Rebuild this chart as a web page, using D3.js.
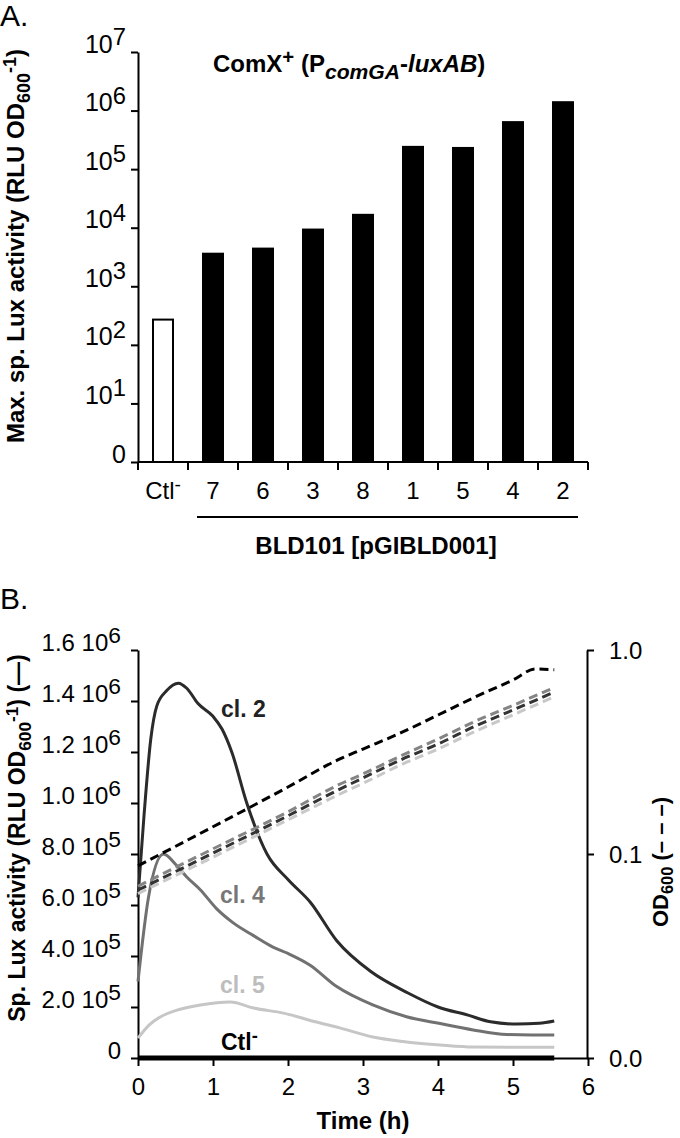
<!DOCTYPE html>
<html><head><meta charset="utf-8">
<script src="https://cdn.jsdelivr.net/npm/d3@7"></script>
<style>
body{margin:0;background:#fff;}
svg{display:block;font-family:"Liberation Sans",Arial,Helvetica,sans-serif;}
</style></head><body>
<svg id="chart" width="680" height="1138"></svg>
<script>
// ---------- Panel A data ----------
const categories = ["Ctl", "7", "6", "3", "8", "1", "5", "4", "2"];
const maxLux = [270, 3600, 4400, 9300, 16600, 240000, 230000, 635000, 1390000];
const logTicks = [1, 10, 100, 1e3, 1e4, 1e5, 1e6, 1e7];

// ---------- Panel B data ----------
const cl2Time = [0, 0.08, 0.17, 0.25, 0.38, 0.54, 0.65, 0.8, 1.0, 1.12, 1.25, 1.45, 1.72, 2.0, 2.3, 2.65, 3.1, 3.6, 4.0, 4.4, 4.7, 5.05, 5.35, 5.55];
const cl2Lux = [6.3e5, 9.5e5, 1.25e6, 1.38e6, 1.44e6, 1.47e6, 1.45e6, 1.39e6, 1.34e6, 1.29e6, 1.2e6, 1.0e6, 8.0e5, 7.0e5, 6.1e5, 4.6e5, 3.4e5, 2.55e5, 2.0e5, 1.68e5, 1.42e5, 1.33e5, 1.36e5, 1.45e5];
const cl4Time = [0, 0.14, 0.34, 0.5, 0.65, 0.83, 1.05, 1.27, 1.54, 1.8, 2.0, 2.29, 2.65, 3.13, 3.58, 4.03, 4.47, 4.92, 5.25, 5.55];
const cl4Lux = [3.0e5, 6.3e5, 8.0e5, 7.6e5, 7.1e5, 6.6e5, 5.85e5, 5.3e5, 4.8e5, 4.35e5, 4.1e5, 3.65e5, 2.8e5, 2.08e5, 1.62e5, 1.35e5, 1.1e5, 9.2e4, 9.0e4, 9.0e4];
const cl5Time = [0, 0.15, 0.29, 0.52, 0.83, 1.23, 1.54, 1.94, 2.38, 2.69, 3.13, 3.58, 4.03, 4.47, 5.0, 5.55];
const cl5Lux = [7.8e4, 1.3e5, 1.6e5, 1.88e5, 2.08e5, 2.2e5, 1.96e5, 1.76e5, 1.41e5, 1.18e5, 8.2e4, 6.3e4, 5.1e4, 4.3e4, 4.2e4, 4.2e4];
const ctlTime = [0, 1, 2, 3, 4, 5, 5.55];
const ctlLux = [0, 0, 0, 0, 0, 0, 0];

const odTime = [0, 1, 2, 2.67, 3, 3.5, 4, 4.5, 5, 5.3, 5.55];
const odCtl = [0.0875, 0.136, 0.213, 0.29, 0.327, 0.392, 0.48, 0.589, 0.713, 0.807, 0.80];
const odCl4 = [0.0695, 0.106, 0.161, 0.218, 0.247, 0.302, 0.366, 0.448, 0.535, 0.597, 0.655];
const odCl2 = [0.0666, 0.101, 0.154, 0.206, 0.236, 0.289, 0.346, 0.424, 0.508, 0.567, 0.622];
const odCl5 = [0.064, 0.0965, 0.147, 0.195, 0.222, 0.273, 0.327, 0.4, 0.481, 0.537, 0.59];

const luxTicks = [0, 2e5, 4e5, 6e5, 8e5, 1e6, 1.2e6, 1.4e6, 1.6e6];
const timeTicks = [0, 1, 2, 3, 4, 5, 6];
const odTicks = [0.01, 0.1, 1];
const odTickLabels = ["0.0", "0.1", "1.0"];

const svg = d3.select("#chart");

// rich text helper: parts = [{t, sup, sub, italic, fs, shift}]
function rich(sel, base, parts) {
  let cur = 0;
  parts.forEach(p => {
    let target = 0, fs = null;
    if (p.sup) { target = -(p.shift != null ? p.shift : 0.38) * base; fs = (p.fs || 0.75) * base; }
    if (p.sub) { target = (p.shift != null ? p.shift : 0.25) * base; fs = (p.fs || 0.75) * base; }
    const ts = sel.append("tspan").text(p.t).attr("dy", target - cur);
    if (fs) ts.attr("font-size", fs);
    if (p.italic) ts.attr("font-style", "italic");
    cur = target;
  });
  return sel;
}

// =============== PANEL A ===============
const aY = d3.scaleLog().domain([1, 1e7]).range([462, 52]);
const aX = d3.scaleBand().domain(categories).range([138, 588]).paddingInner(0.6).paddingOuter(0.3);
const gA = svg.append("g");

svg.append("text").attr("x", 0).attr("y", 26).attr("font-size", 30).text("A.");

// bars
gA.selectAll("rect.bar").data(categories).join("rect")
  .attr("x", d => aX(d))
  .attr("width", aX.bandwidth())
  .attr("y", (d, i) => aY(maxLux[i]))
  .attr("height", (d, i) => aY(1) - aY(maxLux[i]))
  .attr("fill", (d, i) => i === 0 ? "#fff" : "#000")
  .attr("stroke", "#000").attr("stroke-width", 2);

// y axis
const aAxis = gA.append("g").attr("transform", "translate(138,0)")
  .call(d3.axisLeft(aY).tickValues(logTicks).tickSize(7).tickSizeOuter(0).tickFormat(""));
aAxis.select(".domain").attr("stroke-width", 2);
aAxis.selectAll(".tick line").attr("stroke-width", 2);
aAxis.selectAll(".tick").each(function(d) {
  const t = d3.select(this).append("text").attr("x", -12).attr("dy", 8)
    .attr("text-anchor", "end").attr("font-size", 25).attr("fill", "#000");
  if (d === 1) rich(t, 25, [{t: "0"}]);
  else rich(t, 25, [{t: "10"}, {t: String(Math.round(Math.log10(d))), sup: true, fs: 0.95, shift: 0.3}]);
});

// x axis (band boundaries)
const step = aX.step();
const bounds = categories.map(c => aX(c) - (step - aX.bandwidth()) / 2).concat([aX(categories[categories.length - 1]) + aX.bandwidth() + (step - aX.bandwidth()) / 2]);
gA.append("line").attr("x1", bounds[0]).attr("x2", bounds[bounds.length - 1])
  .attr("y1", aY(1)).attr("y2", aY(1)).attr("stroke", "#000").attr("stroke-width", 2);
gA.selectAll("line.xt").data(bounds).join("line").attr("class", "xt")
  .attr("x1", d => d).attr("x2", d => d).attr("y1", aY(1)).attr("y2", aY(1) + 8)
  .attr("stroke", "#000").attr("stroke-width", 2);
gA.selectAll("text.xl").data(categories).join("text").attr("class", "xl")
  .attr("x", d => aX(d) + aX.bandwidth() / 2).attr("y", 499)
  .attr("text-anchor", "middle").attr("font-size", 24)
  .each(function(d) {
    const t = d3.select(this);
    if (d === "Ctl") rich(t, 24, [{t: "Ctl"}, {t: "-", sup: true, fs: 0.8, shift: 0.35}]);
    else t.text(d);
  });

// bracket
gA.append("line").attr("x1", aX("7") - 6).attr("x2", aX("2") + aX.bandwidth() + 5)
  .attr("y1", 517).attr("y2", 517).attr("stroke", "#000").attr("stroke-width", 2);
gA.append("text").attr("x", 376).attr("y", 554).attr("text-anchor", "middle")
  .attr("font-size", 24).attr("font-weight", "bold").text("BLD101 [pGIBLD001]");

// title
rich(gA.append("text").attr("x", 213).attr("y", 72).attr("font-size", 24).attr("font-weight", "bold"), 24,
  [{t: "ComX"}, {t: "+", sup: true, fs: 0.85, shift: 0.35}, {t: " (P"}, {t: "comGA", sub: true, italic: true, fs: 0.88, shift: 0.28}, {t: "-"}, {t: "luxAB", italic: true}, {t: ")"}]);

// y title
rich(gA.append("text").attr("transform", "translate(24,246) rotate(-90)").attr("text-anchor", "middle")
  .attr("font-size", 24).attr("font-weight", "bold"), 24,
  [{t: "Max. sp. Lux activity (RLU OD"}, {t: "600", sub: true}, {t: "-1", sup: true, shift: 0.33}, {t: ")"}]);

// =============== PANEL B ===============
const bX = d3.scaleLinear().domain([0, 6]).range([138, 588]);
const bY = d3.scaleLinear().domain([0, 1.6e6]).range([1058, 650]);
const bOD = d3.scaleLog().domain([0.01, 1]).range([1058, 650]);
const gB = svg.append("g");

svg.append("text").attr("x", 0).attr("y", 609).attr("font-size", 30).text("B.");

// left axis
const lAxis = gB.append("g").attr("transform", "translate(138,0)")
  .call(d3.axisLeft(bY).tickValues(luxTicks).tickSize(7).tickSizeOuter(0).tickFormat(""));
lAxis.select(".domain").attr("stroke-width", 2);
lAxis.selectAll(".tick line").attr("stroke-width", 2);
lAxis.selectAll(".tick").each(function(d) {
  const t = d3.select(this).append("text").attr("x", -17).attr("dy", 8)
    .attr("text-anchor", "end").attr("font-size", 24).attr("fill", "#000");
  if (d === 0) { rich(t, 24, [{t: "0"}]); return; }
  const e = Math.floor(Math.log10(d) + 1e-9);
  const m = (d / Math.pow(10, e)).toFixed(1);
  rich(t, 24, [{t: m + " 10"}, {t: String(e), sup: true, fs: 0.95, shift: 0.3}]);
});

// right axis
const rAxis = gB.append("g").attr("transform", "translate(587,0)")
  .call(d3.axisRight(bOD).tickValues(odTicks).tickSize(7).tickSizeOuter(0).tickPadding(15)
    .tickFormat((d, i) => odTickLabels[i]));
rAxis.select(".domain").attr("stroke-width", 2);
rAxis.selectAll(".tick line").attr("stroke-width", 2);
rAxis.selectAll(".tick text").attr("font-size", 24).attr("font-family", null).attr("fill", "#000").attr("dy", 8);

// bottom axis
const xAxis = gB.append("g").attr("transform", "translate(0,1058)")
  .call(d3.axisBottom(bX).tickValues(timeTicks).tickSize(8).tickSizeOuter(0).tickFormat(d3.format("d")));
xAxis.select(".domain").attr("stroke-width", 2);
xAxis.selectAll(".tick line").attr("stroke-width", 2);
xAxis.selectAll(".tick text").attr("font-size", 24).attr("font-family", null).attr("fill", "#000")
  .attr("y", 37).attr("dy", 0);

// OD dashed lines
const odLine = d3.line().x((d, i) => bX(odTime[i])).y(d => bOD(d)).curve(d3.curveMonotoneX);
const odSeries = [
  {v: odCl5, c: "#c8c8c8"},
  {v: odCl2, c: "#333333"},
  {v: odCl4, c: "#858585"},
  {v: odCtl, c: "#000000"}
];
// lux solid lines
const luxLine = (times) => d3.line().x((d, i) => bX(times[i])).y(d => bY(d)).curve(d3.curveMonotoneX);
const luxSeries = [
  {t: cl5Time, v: cl5Lux, c: "#c6c6c6", w: 3},
  {t: cl4Time, v: cl4Lux, c: "#717171", w: 3},
  {t: cl2Time, v: cl2Lux, c: "#2b2b2b", w: 3},
  {t: ctlTime, v: ctlLux, c: "#000000", w: 5}
];
luxSeries.forEach(s => {
  gB.append("path").datum(s.v).attr("d", luxLine(s.t)).attr("fill", "none")
    .attr("stroke", s.c).attr("stroke-width", s.w).attr("stroke-linejoin", "round");
});
odSeries.forEach(s => {
  gB.append("path").datum(s.v).attr("d", odLine).attr("fill", "none")
    .attr("stroke", s.c).attr("stroke-width", 3).attr("stroke-dasharray", "9,5");
});

// curve labels
const labelData = [
  {parts: [{t: "cl. 2"}], x: 221, y: 717, c: "#222"},
  {parts: [{t: "cl. 4"}], x: 220, y: 903, c: "#777"},
  {parts: [{t: "cl. 5"}], x: 220, y: 993, c: "#bdbdbd"},
  {parts: [{t: "Ctl"}, {t: "-", sup: true, fs: 0.8, shift: 0.35}], x: 221, y: 1050, c: "#000"}
];
labelData.forEach(l => {
  rich(gB.append("text").attr("x", l.x).attr("y", l.y).attr("font-size", 23).attr("font-weight", "bold")
    .attr("fill", l.c), 23, l.parts);
});

// axis titles
rich(gB.append("text").attr("transform", "translate(25,838) rotate(-90)").attr("text-anchor", "middle")
  .attr("font-size", 23).attr("font-weight", "bold"), 23,
  [{t: "Sp. Lux activity (RLU OD"}, {t: "600", sub: true}, {t: "-1", sup: true, shift: 0.32}, {t: ") (\u2014)"}]);
rich(gB.append("text").attr("transform", "translate(668,862) rotate(-90)").attr("text-anchor", "middle")
  .attr("font-size", 22).attr("font-weight", "bold"), 22,
  [{t: "OD"}, {t: "600", sub: true, shift: 0.22}, {t: " (\u2013 \u2013 \u2013)"}]);
gB.append("text").attr("x", 363).attr("y", 1129).attr("text-anchor", "middle")
  .attr("font-size", 24).attr("font-weight", "bold").text("Time (h)");
</script>
</body></html>
